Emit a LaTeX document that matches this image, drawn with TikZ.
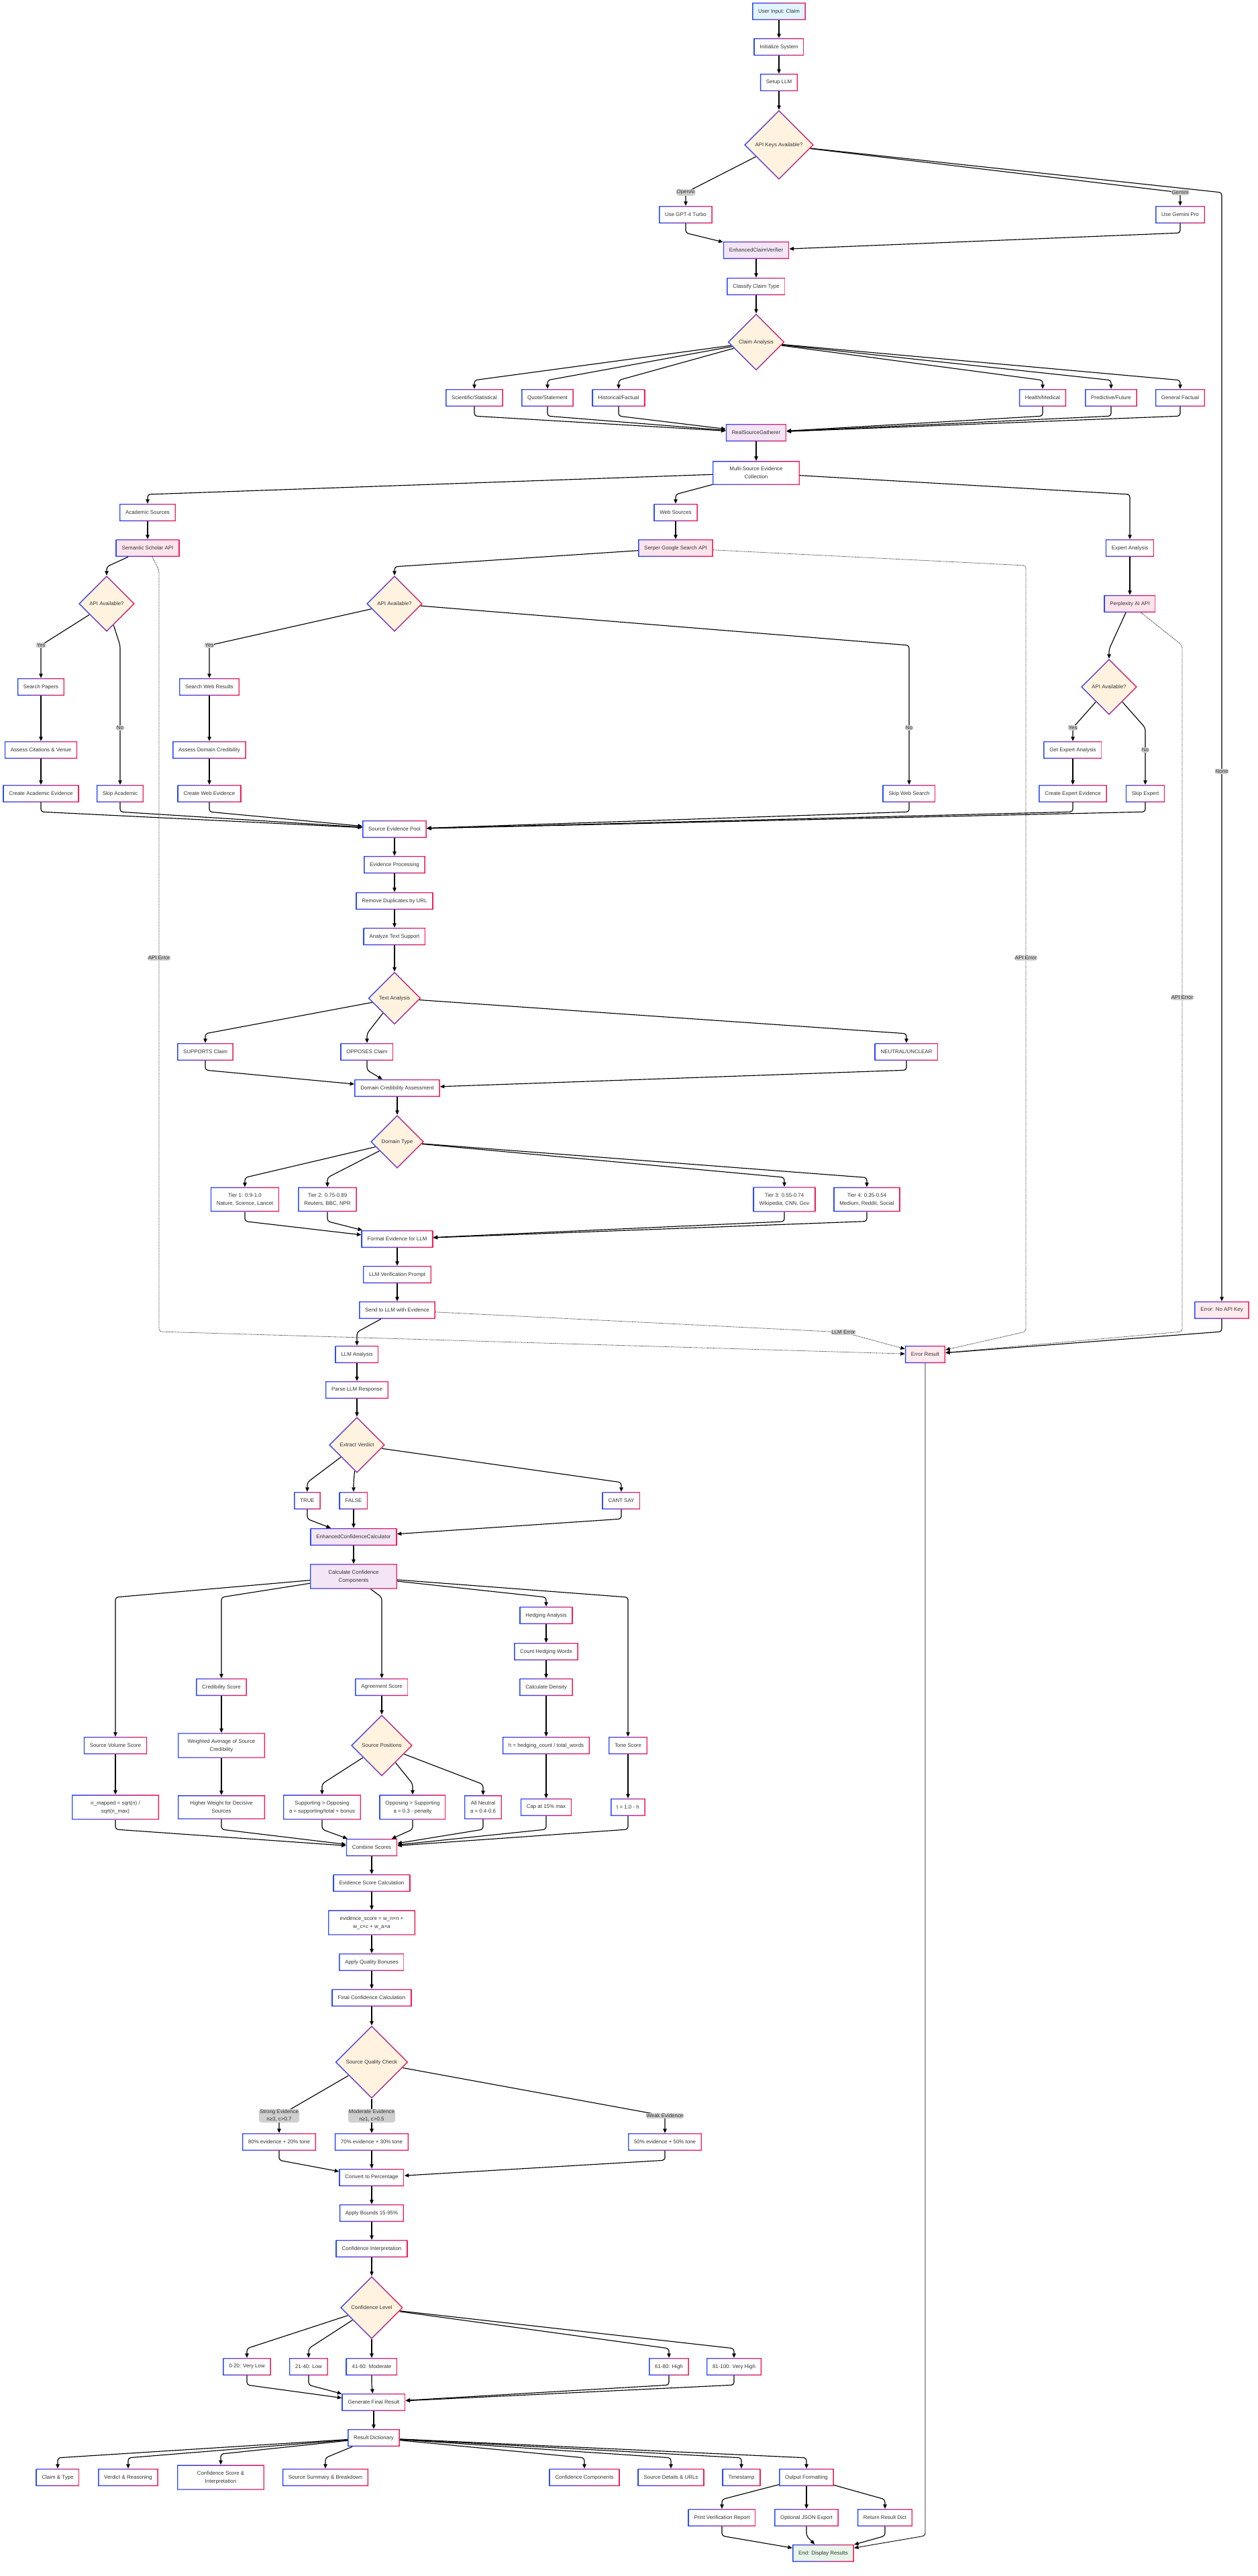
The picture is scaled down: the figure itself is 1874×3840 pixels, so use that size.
\documentclass[tikz,border=0pt]{standalone}
\usepackage{fontspec}
\setmainfont{Liberation Sans}
\usepackage{tikz}
\usetikzlibrary{shapes.geometric,arrows.meta}
\definecolor{gblue}{RGB}{45,75,245}
\definecolor{gred}{RGB}{240,30,90}
\definecolor{txt}{RGB}{51,51,51}
\definecolor{decfill}{RGB}{255,243,224}
\definecolor{purp}{RGB}{243,229,245}
\definecolor{apifill}{RGB}{252,228,236}
\definecolor{errfill}{RGB}{255,235,238}
\definecolor{endfill}{RGB}{232,245,233}
\definecolor{startfill}{RGB}{225,245,254}
\definecolor{lblgray}{RGB}{208,208,208}

\begin{document}
\begin{tikzpicture}[x=1pt, y=-1pt,
    font=\fontsize{7.9}{12}\selectfont, text=txt,
    >={Triangle[length=6.5pt,width=5.5pt]},
    gframe/.style={path picture={
      \shade[left color=gblue, right color=gred, even odd rule]
        (path picture bounding box.south west) rectangle (path picture bounding box.north east)
        ([xshift=1.4pt,yshift=1.4pt]path picture bounding box.south west) rectangle ([xshift=-1.4pt,yshift=-1.4pt]path picture bounding box.north east);}},
    gdframe/.style={path picture={
      \shade[left color=gblue, right color=gred, even odd rule]
        (path picture bounding box.north) -- (path picture bounding box.east) -- (path picture bounding box.south) -- (path picture bounding box.west) -- cycle
        ([yshift=-2pt]path picture bounding box.north) -- ([xshift=-2pt]path picture bounding box.east) -- ([yshift=2pt]path picture bounding box.south) -- ([xshift=2pt]path picture bounding box.west) -- cycle;}},
    box/.style={rectangle, fill=white, minimum height=26pt, inner xsep=9pt, inner ysep=9pt, align=center, gframe},
    wide/.style={box, minimum width=130pt},
    dec/.style={diamond, aspect=1, inner sep=0pt, fill=decfill, align=center, gdframe},
    lbl/.style={fill=lblgray, inner sep=1.2pt, align=center, font=\fontsize{7.9}{11}\selectfont},
    flow/.style={->, line width=1.15pt, rounded corners=4pt},
    errflow/.style={->, densely dotted, line width=0.8pt, rounded corners=4pt}]
    \useasboundingbox (0,0) rectangle (1874,3840);
    \fill[white] (0,0) rectangle (1874,3840);

    \node[box, fill=startfill] (start) at (1161,17) {User Input: Claim};
    \node[box] (init) at (1161,70) {Initialize System};
    \node[box] (llm) at (1161,123) {Setup LLM};
    \node[dec, minimum size=104pt] (keys) at (1161,216) {API Keys Available?};
    \node[box] (gpt) at (1022,320) {Use GPT-4 Turbo};
    \node[box] (gem) at (1759,320) {Use Gemini Pro};
    \node[box, fill=purp] (ecv) at (1127,373) {EnhancedClaimVerifier};
    \node[box] (cls) at (1127,427) {Classify Claim Type};
    \node[dec, minimum size=85pt] (ca) at (1127,510) {Claim Analysis};
    \node[box] (sci) at (707,593) {Scientific/Statistical};
    \node[box] (quo) at (816,593) {Quote/Statement};
    \node[box] (his) at (922,593) {Historical/Factual};
    \node[box] (hea) at (1554,593) {Health/Medical};
    \node[box] (pred) at (1656,593) {Predictive/Future};
    \node[box] (genf) at (1759,593) {General Factual};
    \node[box, fill=purp] (rsg) at (1127,645) {RealSourceGatherer};
    \node[wide] (msc) at (1127,705) {Multi-Source Evidence\\Collection};

    \node[box] (acad) at (220,764) {Academic Sources};
    \node[box] (webs) at (1007,764) {Web Sources};
    \node[box] (expa) at (1684,817) {Expert Analysis};
    \node[box, fill=apifill] (sem) at (220,817) {Semantic Scholar API};
    \node[box, fill=apifill] (ser) at (1007,817) {Serper Google Search API};
    \node[box, fill=apifill] (ppx) at (1684,900) {Perplexity AI API};
    \node[dec, minimum size=84pt] (semok) at (159,900) {API Available?};
    \node[dec, minimum size=84pt] (serok) at (588,900) {API Available?};
    \node[dec, minimum size=84pt] (ppxok) at (1653,1024) {API Available?};
    \node[box] (papers) at (61,1024) {Search Papers};
    \node[box] (cit) at (61,1118) {Assess Citations \& Venue};
    \node[box] (acev) at (61,1183) {Create Academic Evidence};
    \node[box] (skipac) at (179,1183) {Skip Academic};
    \node[box] (wres) at (312,1024) {Search Web Results};
    \node[box] (dcred) at (312,1118) {Assess Domain Credibility};
    \node[box] (wev) at (312,1183) {Create Web Evidence};
    \node[box] (skipweb) at (1355,1183) {Skip Web Search};
    \node[box] (getexp) at (1599,1118) {Get Expert Analysis};
    \node[box] (expev) at (1599,1183) {Create Expert Evidence};
    \node[box] (skipexp) at (1707,1183) {Skip Expert};

    \node[box] (pool) at (588,1236) {Source Evidence Pool};
    \node[box] (proc) at (588,1289) {Evidence Processing};
    \node[box] (dedup) at (588,1343) {Remove Duplicates by URL};
    \node[box] (txts) at (588,1396) {Analyze Text Support};
    \node[dec, minimum size=79pt] (ta) at (588,1488) {Text Analysis};
    \node[box] (sup) at (306,1568) {SUPPORTS Claim};
    \node[box] (opp) at (547,1568) {OPPOSES Claim};
    \node[box] (neu) at (1351,1568) {NEUTRAL/UNCLEAR};
    \node[box] (dca) at (592,1622) {Domain Credibility Assessment};
    \node[dec, minimum size=80pt] (dt) at (592,1702) {Domain Type};
    \node[box] (tier1) at (365,1788) {Tier 1: 0.9-1.0\\Nature, Science, Lancet};
    \node[box] (tier2) at (488,1788) {Tier 2: 0.75-0.89\\Reuters, BBC, NPR};
    \node[box] (tier3) at (1169,1788) {Tier 3: 0.55-0.74\\Wikipedia, CNN, Gov};
    \node[box] (tier4) at (1292,1788) {Tier 4: 0.35-0.54\\Medium, Reddit, Social};
    \node[box] (fmt) at (592,1847) {Format Evidence for LLM};
    \node[box] (vprompt) at (592,1900) {LLM Verification Prompt};
    \node[box] (send) at (592,1953) {Send to LLM with Evidence};
    \node[box, fill=errfill] (keyerr) at (1821,1953) {Error: No API Key};
    \node[box, fill=errfill] (errres) at (1379,2019) {Error Result};

    \node[box] (llma) at (532,2019) {LLM Analysis};
    \node[box] (parse) at (532,2072) {Parse LLM Response};
    \node[dec, minimum size=84pt] (verd) at (532,2154) {Extract Verdict};
    \node[box] (vtrue) at (458,2237) {TRUE};
    \node[box] (vfalse) at (527,2237) {FALSE};
    \node[box] (vcant) at (926,2237) {CANT SAY};
    \node[box, fill=purp] (ecc) at (527,2291) {EnhancedConfidenceCalculator};
    \node[wide, fill=purp] (ccc) at (527,2350) {Calculate Confidence\\Components};
    \node[box] (hedge) at (814,2408) {Hedging Analysis};
    \node[box] (count) at (814,2462) {Count Hedging Words};
    \node[box] (dens) at (814,2515) {Calculate Density};
    \node[box] (credsc) at (330,2515) {Credibility Score};
    \node[box] (agree) at (569,2515) {Agreement Score};
    \node[box] (vol) at (172,2602) {Source Volume Score};
    \node[wide] (wavg) at (330,2602) {Weighted Average of Source\\Credibility};
    \node[dec, minimum size=92pt] (spos) at (569,2602) {Source Positions};
    \node[box] (hfrac) at (814,2602) {h = hedging\_count / total\_words};
    \node[box] (tonesc) at (936,2602) {Tone Score};
    \node[wide] (nmap) at (172,2694) {n\_mapped = sqrt(n) /\\sqrt(n\_max)};
    \node[wide] (decis) at (330,2694) {Higher Weight for Decisive\\Sources};
    \node[box] (sgo) at (480,2694) {Supporting > Opposing\\a = supporting/total + bonus};
    \node[box] (ogs) at (615,2694) {Opposing > Supporting\\a = 0.3 - penalty};
    \node[box] (alln) at (720,2694) {All Neutral\\a = 0.4-0.6};
    \node[box] (cap) at (814,2694) {Cap at 15\% max};
    \node[box] (tval) at (936,2694) {t = 1.0 - h};

    \node[box] (comb) at (554,2754) {Combine Scores};
    \node[box] (esc) at (554,2807) {Evidence Score Calculation};
    \node[wide] (eform) at (554,2866) {evidence\_score = w\_n×n +\\w\_c×c + w\_a×a};
    \node[box] (bonus) at (554,2925) {Apply Quality Bonuses};
    \node[box] (fcc) at (554,2978) {Final Confidence Calculation};
    \node[dec, minimum size=109pt] (sqc) at (554,3074) {Source Quality Check};
    \node[box] (mstrong) at (416,3193) {80\% evidence + 20\% tone};
    \node[box] (mmod) at (554,3193) {70\% evidence + 30\% tone};
    \node[box] (mweak) at (991,3193) {50\% evidence + 50\% tone};
    \node[box] (pct) at (554,3246) {Convert to Percentage};
    \node[box] (bounds) at (554,3299) {Apply Bounds 15-95\%};
    \node[box] (cinterp) at (554,3352) {Confidence Interpretation};
    \node[dec, minimum size=94pt] (clev) at (554,3440) {Confidence Level};
    \node[box] (lvla) at (368,3528) {0-20: Very Low};
    \node[box] (lvlb) at (460,3528) {21-40: Low};
    \node[box] (lvlc) at (554,3528) {41-60: Moderate};
    \node[box] (lvld) at (997,3528) {61-80: High};
    \node[box] (lvle) at (1094,3528) {81-100: Very High};
    \node[box] (gfr) at (557,3581) {Generate Final Result};
    \node[box] (rdict) at (557,3634) {Result Dictionary};
    \node[box] (rclaim) at (86,3693) {Claim \& Type};
    \node[box] (rverd) at (191,3693) {Verdict \& Reasoning};
    \node[wide] (rconf) at (329,3693) {Confidence Score \&\\Interpretation};
    \node[box] (rsum) at (485,3693) {Source Summary \& Breakdown};
    \node[box] (rcomp) at (871,3693) {Confidence Components};
    \node[box] (rdet) at (1000,3693) {Source Details \& URLs};
    \node[box] (rtime) at (1105,3693) {Timestamp};
    \node[box] (rout) at (1202,3693) {Output Formatting};
    \node[box] (prt) at (1076,3753) {Print Verification Report};
    \node[box] (json) at (1202,3753) {Optional JSON Export};
    \node[box] (ret) at (1319,3753) {Return Result Dict};
    \node[box, fill=endfill] (fin) at (1227,3806) {End: Display Results};

    \draw[flow] (start) -- (init);
    \draw[flow] (init) -- (llm);
    \draw[flow] (llm) -- (keys);
    \draw[flow] (keys) -- (1022,287) node[lbl] (lopen) {OpenAI} -- (gpt);
    \draw[flow] (keys) -- (1759,287) node[lbl] (lgem) {Gemini} -- (gem);
    \draw[flow] (keys) -- (1821,287) -- (1821,1150) node[lbl] (lnone) {None} -- (keyerr);
    \draw[flow] (gpt) -- ([yshift=-14pt]gpt.south) -- (ecv);
    \draw[flow] (gem) -- ([yshift=-14pt]gem.south) -- (ecv);
    \draw[flow] (ecv) -- (cls);
    \draw[flow] (cls) -- (ca);
    \foreach \t in {sci,quo,his,hea,pred,genf}{
      \draw[flow] (ca) -- ([yshift=13pt]\t.north) -- (\t);
      \draw[flow] (\t) -- ([yshift=-14pt]\t.south) -- (rsg);
    }
    \draw[flow] (rsg) -- (msc);
    \foreach \t/\x in {acad/220,webs/1007,expa/1684}
      \draw[flow] (msc) -- (\x,737) -- (\t);

    \draw[flow] (acad) -- (sem);
    \draw[flow] (sem) -- ([yshift=13pt]semok.north) -- (semok);
    \draw[flow] (semok) -- (61,962) node[lbl] (lyesa) {Yes} -- (papers);
    \draw[flow] (semok) -- (179,962) -- (179,1085) node[lbl] (lnoa) {No} -- (skipac);
    \draw[flow] (papers) -- (cit);
    \draw[flow] (cit) -- (acev);
    \draw[flow] (webs) -- (ser);
    \draw[flow] (ser) -- ([yshift=13pt]serok.north) -- (serok);
    \draw[flow] (serok) -- (312,962) node[lbl] (lyesw) {Yes} -- (wres);
    \draw[flow] (serok) -- (1355,962) -- (1355,1085) node[lbl] (lnow) {No} -- (skipweb);
    \draw[flow] (wres) -- (dcred);
    \draw[flow] (dcred) -- (wev);
    \draw[flow] (expa) -- (ppx);
    \draw[flow] (ppx) -- ([yshift=14pt]ppxok.north) -- (ppxok);
    \draw[flow] (ppxok) -- (1599,1085) node[lbl] (lyese) {Yes} -- (getexp);
    \draw[flow] (ppxok) -- (1707,1085) -- (1707,1118) node[lbl] (lnoe) {No} -- (skipexp);
    \draw[flow] (getexp) -- (expev);
    \foreach \s in {acev,skipac,wev,skipweb,expev,skipexp}
      \draw[flow] (\s) -- ([yshift=-14pt]\s.south) -- (pool);

    \draw[flow] (pool) -- (proc);
    \draw[flow] (proc) -- (dedup);
    \draw[flow] (dedup) -- (txts);
    \draw[flow] (txts) -- (ta);
    \foreach \t in {sup,opp,neu}{
      \draw[flow] (ta) -- ([yshift=14pt]\t.north) -- (\t);
      \draw[flow] (\t) -- ([yshift=-14pt]\t.south) -- (dca);
    }
    \draw[flow] (dca) -- (dt);
    \foreach \t in {tier1,tier2,tier3,tier4}{
      \draw[flow] (dt) -- ([yshift=14pt]\t.north) -- (\t);
      \draw[flow] (\t) -- ([yshift=-14pt]\t.south) -- (fmt);
    }
    \draw[flow] (fmt) -- (vprompt);
    \draw[flow] (vprompt) -- (send);
    \draw[flow] (send) -- ([yshift=20pt]llma.north) -- (llma);

    \draw[errflow] (sem) -- (237,850) -- (237,1428) node[lbl] (lerra) {API Error} -- (237,1985) -- (errres);
    \draw[errflow] (ser) -- (1529,843) -- (1529,1428) node[lbl] (lerrw) {API Error} -- (1529,1985) -- (errres);
    \draw[errflow] (ppx) -- (1762,962) -- (1762,1487) node[lbl] (lerre) {API Error} -- (1762,1985) -- (errres);
    \draw[errflow] (send) -- (1257,1986) node[lbl] (lllm) {LLM Error} -- (errres);
    \draw[flow] (keyerr) -- (1821,1985) -- (errres);
    \draw[flow, line width=0.9pt] (errres) -- (1379,3780) -- (fin);

    \draw[flow] (llma) -- (parse);
    \draw[flow] (parse) -- (verd);
    \foreach \t in {vtrue,vfalse,vcant}{
      \draw[flow] (verd) -- ([yshift=14pt]\t.north) -- (\t);
      \draw[flow] (\t) -- ([yshift=-14pt]\t.south) -- (ecc);
    }
    \draw[flow] (ecc) -- (ccc);
    \foreach \t/\x in {vol/172,credsc/330,agree/569,hedge/814,tonesc/936}
      \draw[flow] (ccc) -- (\x,2381) -- (\t);
    \draw[flow] (hedge) -- (count);
    \draw[flow] (count) -- (dens);
    \draw[flow] (dens) -- (hfrac);
    \draw[flow] (hfrac) -- (cap);
    \draw[flow] (credsc) -- (wavg);
    \draw[flow] (wavg) -- (decis);
    \draw[flow] (vol) -- (nmap);
    \draw[flow] (agree) -- (spos);
    \draw[flow] (tonesc) -- (tval);
    \foreach \t in {sgo,ogs,alln}
      \draw[flow] (spos) -- ([yshift=16pt]\t.north) -- (\t);
    \foreach \s/\x in {nmap/172,decis/330,sgo/480,ogs/615,alln/720,cap/814,tval/936}
      \draw[flow] (\s) -- (\x,2727) -- (comb);

    \draw[flow] (comb) -- (esc);
    \draw[flow] (esc) -- (eform);
    \draw[flow] (eform) -- (bonus);
    \draw[flow] (bonus) -- (fcc);
    \draw[flow] (fcc) -- (sqc);
    \draw[flow] (sqc) -- (416,3154) node[lbl] (lstrong) {Strong Evidence\\n≥3, c>0.7} -- (mstrong);
    \draw[flow] (sqc) -- (554,3154) node[lbl] (lmod) {Moderate Evidence\\n≥1, c>0.5} -- (mmod);
    \draw[flow] (sqc) -- (991,3154) node[lbl] (lweak) {Weak Evidence} -- (mweak);
    \foreach \s in {mstrong,mmod,mweak}
      \draw[flow] (\s) -- ([yshift=-14pt]\s.south) -- (pct);
    \draw[flow] (pct) -- (bounds);
    \draw[flow] (bounds) -- (cinterp);
    \draw[flow] (cinterp) -- (clev);
    \foreach \t in {lvla,lvlb,lvlc,lvld,lvle}{
      \draw[flow] (clev) -- ([yshift=14pt]\t.north) -- (\t);
      \draw[flow] (\t) -- ([yshift=-14pt]\t.south) -- (gfr);
    }
    \draw[flow] (gfr) -- (rdict);
    \foreach \t in {rclaim,rverd,rconf,rsum,rcomp,rdet,rtime,rout}
      \draw[flow] (rdict) -- ([yshift=16pt]\t.north) -- (\t);
    \foreach \t in {prt,json,ret}{
      \draw[flow] (rout) -- ([yshift=14pt]\t.north) -- (\t);
      \draw[flow] (\t) -- ([yshift=-14pt]\t.south) -- (fin);
    }
\end{tikzpicture}
\end{document}
